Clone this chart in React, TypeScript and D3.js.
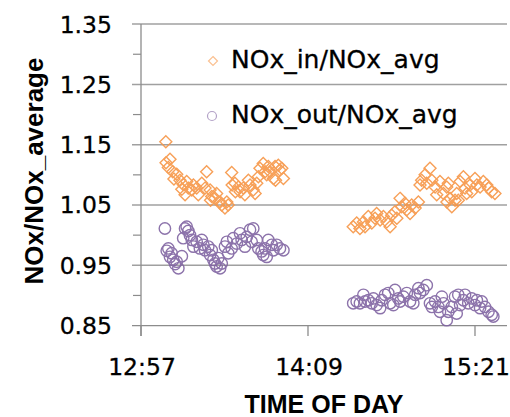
import React from "react";
import * as d3 from "d3";

// Time in minutes since midnight, values as ratios
const inTimes = [
  787.7, 789.5, 787.8, 788.8, 790.7, 792.4, 791.2, 793.8, 795.2, 794.6, 796.7, 797.4, 796.0, 798.9, 799.6, 801.7,
  801.0, 803.2, 805.3, 804.6, 806.8, 807.5, 807.0, 808.9, 809.6, 811.1, 811.8, 813.2, 814.0, 814.6, 816.1, 816.3,
  817.5, 817.7, 819.0, 819.7, 821.1, 821.8, 823.3, 824.0, 825.4, 826.2, 826.9, 827.6, 828.3, 829.7, 830.5, 831.2,
  831.9, 832.6, 834.1, 834.8, 836.2, 836.9, 837.7, 838.4, 835.0,
  868.5, 870.0, 871.4, 872.9, 873.6, 875.0, 876.5, 877.9, 878.6, 880.1, 881.5, 883.0, 884.4, 885.1, 886.5, 887.3,
  888.7, 889.4, 890.8, 891.6, 893.0, 893.7, 895.2, 896.6, 897.3, 898.0, 899.5, 901.6, 902.4, 900.2, 903.8, 904.5,
  905.9, 907.4, 908.8, 909.5, 910.2, 911.0, 912.4, 913.1, 914.6, 916.0, 916.7, 917.4, 918.9, 919.6, 921.0, 921.8,
  923.2, 924.6, 926.1, 926.8, 928.2, 929.6, 913.8, 908.9,
];
const inValues = [
  1.155, 1.126, 1.12, 1.112, 1.105, 1.101, 1.093, 1.091, 1.084, 1.076, 1.089, 1.078, 1.067, 1.075, 1.083, 1.067,
  1.078, 1.086, 1.105, 1.078, 1.075, 1.064, 1.058, 1.061, 1.069, 1.055, 1.05, 1.045, 1.055, 1.05, 1.104, 1.083,
  1.086, 1.072, 1.08, 1.072, 1.078, 1.067, 1.091, 1.083, 1.075, 1.069, 1.086, 1.097, 1.111, 1.119, 1.105, 1.1,
  1.114, 1.105, 1.094, 1.114, 1.116, 1.108, 1.111, 1.094, 1.091,
  1.014, 1.02, 1.011, 1.022, 1.014, 1.031, 1.02, 1.028, 1.036, 1.025, 1.031, 1.022, 1.014, 1.033, 1.039, 1.028,
  1.061, 1.047, 1.053, 1.042, 1.036, 1.05, 1.045, 1.055, 1.083, 1.091, 1.1, 1.111, 1.091, 1.086, 1.08, 1.067,
  1.089, 1.069, 1.08, 1.086, 1.061, 1.047, 1.058, 1.069, 1.089, 1.097, 1.078, 1.069, 1.083, 1.072, 1.094, 1.083,
  1.08, 1.089, 1.083, 1.078, 1.072, 1.069, 1.058, 1.055,
];
const outTimes = [
  787.3, 788.8, 788.1, 790.2, 789.5, 790.9, 791.7, 793.1, 792.4, 794.6, 796.0, 796.7, 797.4, 795.2, 798.1, 798.9,
  799.6, 801.0, 802.4, 803.2, 803.9, 804.6, 806.0, 806.8, 807.5, 808.2, 808.9, 809.6, 811.1, 811.8, 810.3, 813.2,
  814.0, 814.6, 816.1, 816.8, 818.3, 819.7, 820.4, 821.8, 822.6, 824.0, 825.4, 824.7, 826.9, 827.6, 829.0, 829.7,
  830.5, 831.9, 833.4, 834.1, 835.5, 836.9, 838.4, 831.2,
  868.5, 870.0, 871.4, 872.9, 873.6, 875.0, 876.5, 877.2, 878.6, 880.1, 880.8, 882.2, 883.6, 884.4, 885.8, 886.5,
  887.9, 888.7, 890.1, 891.6, 893.0, 894.4, 895.2, 896.6, 897.3, 898.7, 900.2, 901.6, 902.4, 903.8, 905.2, 906.7,
  907.4, 908.8, 909.5, 911.0, 912.4, 913.8, 914.6, 916.0, 916.7, 918.1, 919.6, 921.0, 921.8, 923.2, 923.9, 925.3,
  926.8, 928.2, 928.9, 913.1, 905.9,
];
const outValues = [
  1.011, 0.978, 0.974, 0.97, 0.964, 0.959, 0.952, 0.945, 0.956, 0.965, 1.011, 1.014, 1.007, 0.995, 1.0, 0.992,
  0.981, 0.989, 0.978, 0.992, 0.984, 0.975, 0.981, 0.967, 0.975, 0.959, 0.953, 0.948, 0.945, 0.953, 0.962, 0.981,
  0.989, 0.97, 0.978, 0.995, 0.986, 1.003, 0.992, 0.981, 0.997, 1.009, 1.011, 0.989, 0.992, 0.978, 0.973, 0.967,
  0.978, 0.992, 0.984, 0.975, 0.984, 0.978, 0.975, 0.964,
  0.887, 0.89, 0.887, 0.901, 0.89, 0.892, 0.887, 0.895, 0.884, 0.879, 0.892, 0.901, 0.904, 0.887, 0.884, 0.909,
  0.895, 0.89, 0.898, 0.904, 0.89, 0.887, 0.901, 0.912, 0.904, 0.909, 0.917, 0.887, 0.881, 0.89, 0.881, 0.898,
  0.887, 0.859, 0.873, 0.881, 0.898, 0.901, 0.884, 0.892, 0.901, 0.887, 0.895, 0.884, 0.892, 0.879, 0.89, 0.881,
  0.873, 0.868, 0.865, 0.87, 0.873,
];

const xTicks = [777, 849, 921]; // 12:57, 14:09, 15:21
const yTicks = [0.85, 0.95, 1.05, 1.15, 1.25, 1.35];
const yMinor = [0.9, 1.0, 1.1, 1.2, 1.3];
const seriesNames = ["NOx_in/NOx_avg", "NOx_out/NOx_avg"];
const xTitle = "TIME OF DAY";
const yTitle = "NOx/NOx_average";

const ORANGE = "#F79646";
const PURPLE = "#8064A2";

const fmtTime = (m: number) => {
  const h = Math.floor(m / 60);
  const mm = Math.round(m - h * 60);
  return `${h}:${mm < 10 ? "0" + mm : mm}`;
};

export default function App() {
  const W = 510, H = 417;
  const left = 141, right = 507, top = 24.1, bottom = 325.6;
  const x = d3.scaleLinear().domain([777, 934.8]).range([left, right]);
  const y = d3.scaleLinear().domain([0.85, 1.35]).range([bottom, top]);
  const tickFont = "'DejaVu Sans', sans-serif";
  const diamond = (cx: number, cy: number, r: number) =>
    `M${cx},${cy - r}L${cx + r},${cy}L${cx},${cy + r}L${cx - r},${cy}Z`;

  return (
    <svg width={W} height={H} style={{ position: "absolute", left: 0, top: 0, background: "#fff" }}>
      {/* gridlines */}
      {yTicks.slice(1).map((t) => (
        <line key={"g" + t} x1={132} x2={right} y1={y(t)} y2={y(t)} stroke="#a0a0a0" strokeWidth={1.5} />
      ))}
      {yMinor.map((t) => (
        <line key={"m" + t} x1={133} x2={left} y1={y(t)} y2={y(t)} stroke="#8c8c8c" strokeWidth={1.2} />
      ))}
      {/* axes */}
      <line x1={left} x2={left} y1={top} y2={336} stroke="#8c8c8c" strokeWidth={1.3} />
      <line x1={132} x2={right} y1={bottom} y2={bottom} stroke="#8c8c8c" strokeWidth={1.3} />
      {xTicks.map((t) => (
        <line key={"xt" + t} x1={x(t)} x2={x(t)} y1={bottom} y2={336} stroke="#8c8c8c" strokeWidth={1.3} />
      ))}
      {/* tick labels */}
      {yTicks.map((t) => (
        <text key={"yl" + t} x={112} y={y(t)} dy="0.36em" textAnchor="end" fontFamily={tickFont} fontSize={23.5} fill="#000" stroke="#000" strokeWidth={0.3}>
          {t.toFixed(2)}
        </text>
      ))}
      {xTicks.map((t) => (
        <text key={"xl" + t} x={x(t) + 1} y={375} textAnchor="middle" fontFamily={tickFont} fontSize={23.5} fill="#000" stroke="#000" strokeWidth={0.3}>
          {fmtTime(t)}
        </text>
      ))}
      {/* titles */}
      <text x={324} y={413} textAnchor="middle" fontFamily="'Liberation Sans', Arial, sans-serif" fontWeight="bold" fontSize={25} fill="#000">
        {xTitle}
      </text>
      <text transform="translate(43,171) rotate(-90)" textAnchor="middle" fontFamily="'Liberation Sans', Arial, sans-serif" fontWeight="bold" fontSize={26} fill="#000">
        {yTitle}
      </text>
      {/* series */}
      <g fill="none" stroke={ORANGE} strokeWidth={1.4} opacity={0.9}>
        {inTimes.map((t, i) => (
          <path key={"i" + i} d={diamond(x(t), y(inValues[i]), 6)} />
        ))}
      </g>
      <g fill="none" stroke={PURPLE} strokeWidth={1.4} opacity={0.9}>
        {outTimes.map((t, i) => (
          <circle key={"o" + i} cx={x(t)} cy={y(outValues[i])} r={5.7} />
        ))}
      </g>
      {/* legend */}
      <path d={diamond(213, 61, 4.5)} fill="none" stroke={ORANGE} strokeWidth={1.2} opacity={0.6} />
      <circle cx={212} cy={116} r={4.5} fill="none" stroke={PURPLE} strokeWidth={1.2} opacity={0.6} />
      <text x={231} y={68} fontFamily={tickFont} fontSize={25} fill="#000" stroke="#000" strokeWidth={0.3}>{seriesNames[0]}</text>
      <text x={231} y={123} fontFamily={tickFont} fontSize={25} fill="#000" stroke="#000" strokeWidth={0.3}>{seriesNames[1]}</text>
    </svg>
  );
}
